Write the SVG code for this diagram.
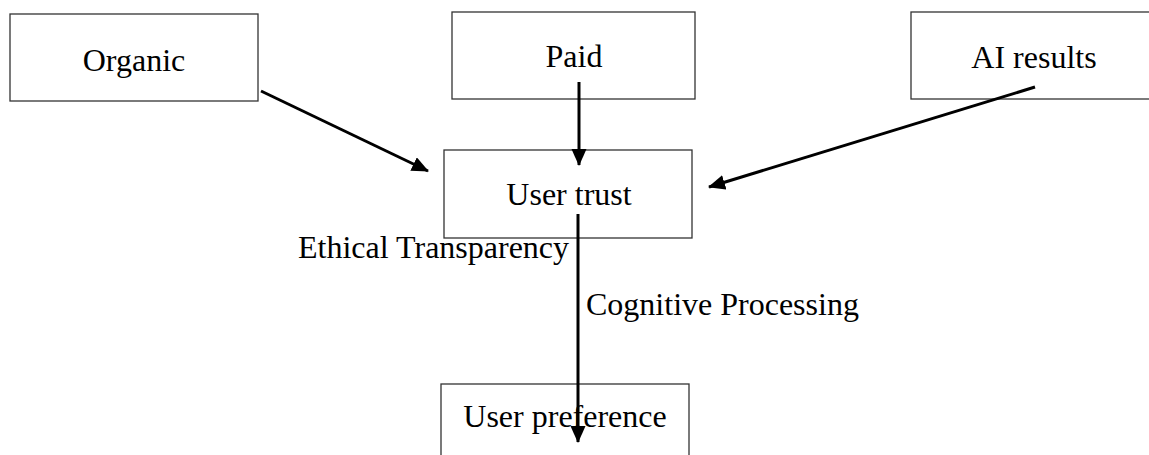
<svg xmlns="http://www.w3.org/2000/svg" width="1149" height="455" viewBox="0 0 1149 455">
<style>
.box{fill:#fff;stroke:#333;stroke-width:1.3}
.lbl{font-family:"Liberation Serif","Times New Roman",serif;font-size:32px;fill:#000}
.conn{stroke:#000;stroke-width:3;fill:none;marker-end:url(#ah)}
</style>
<defs>
<marker id="ah" markerUnits="userSpaceOnUse" markerWidth="18" markerHeight="16" refX="16" refY="7.5" orient="auto">
<path d="M0,0 L17,7.5 L0,15 z" fill="#000"/>
</marker>
</defs>
<rect width="1149" height="455" fill="#fff"/>
<g id="organic"><rect class="box" x="10" y="14" width="248" height="87"/><text class="lbl" x="134" y="71" text-anchor="middle">Organic</text></g>
<g id="paid"><rect class="box" x="452" y="12" width="243" height="87"/><text class="lbl" x="574" y="67" text-anchor="middle">Paid</text></g>
<g id="ai"><rect class="box" x="911" y="12" width="245" height="87"/><text class="lbl" x="1034" y="68" text-anchor="middle">AI results</text></g>
<g id="trust"><rect class="box" x="444" y="150" width="248" height="88"/><text class="lbl" x="569" y="205" text-anchor="middle">User trust</text></g>
<g id="pref"><rect class="box" x="441" y="384" width="248" height="80"/><text class="lbl" x="565" y="427" text-anchor="middle">User preference</text></g>
<g id="labels">
<text class="lbl" x="298" y="258">Ethical Transparency</text>
<text class="lbl" x="586" y="315">Cognitive Processing</text>
</g>
<g id="connectors">
<line class="conn" x1="261" y1="91" x2="428" y2="171"/>
<line class="conn" x1="579" y1="82" x2="579" y2="165"/>
<line class="conn" x1="1035" y1="87" x2="709" y2="187"/>
<line class="conn" x1="578" y1="214" x2="578" y2="442"/>
</g>
</svg>
